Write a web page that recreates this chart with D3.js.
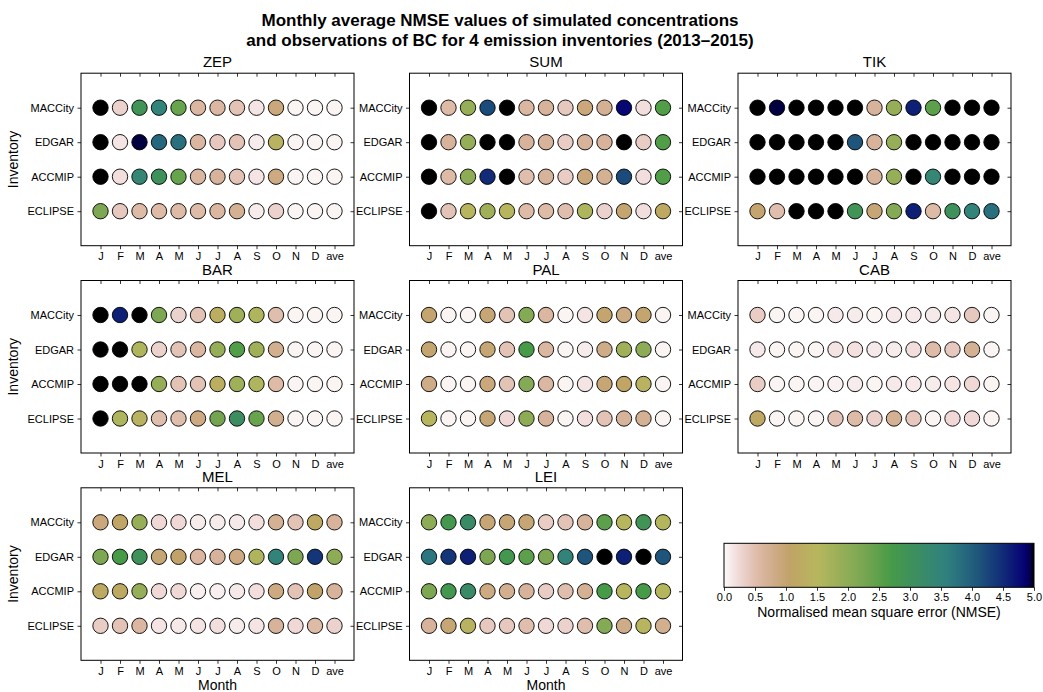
<!DOCTYPE html>
<html lang="en">
<head>
<meta charset="utf-8">
<script src="https://cdnjs.cloudflare.com/ajax/libs/d3/7.8.5/d3.min.js"></script>
<title>Monthly average NMSE</title>
<style>
body{margin:0;background:#fff;}
svg text{font-family:"Liberation Sans",Arial,sans-serif;fill:#000;}
</style>
</head>
<body>
<div id="chart"></div>
<script>
const months = ["J","F","M","A","M","J","J","A","S","O","N","D","ave"];
const inventories = ["MACCity","EDGAR","ACCMIP","ECLIPSE"];
const sites = ["ZEP","SUM","TIK","BAR","PAL","CAB","MEL","LEI"];
const K = 7; // above the colour range -> black

// rows: MACCity, EDGAR, ACCMIP, ECLIPSE ; columns: J..D, ave
const ZEP = [
  [K,0.3,2.9,3.5,2.4,0.6,0.6,0.45,0.15,0.9,0.05,0.05,0.05],
  [K,0.15,4.95,3.9,3.8,0.6,0.4,0.45,0.1,1.4,0.05,0.05,0.05],
  [K,0.2,3.4,3.0,2.4,0.6,0.65,0.45,0.15,0.85,0.05,0.05,0.05],
  [2.2,0.4,0.55,0.55,0.55,0.55,0.6,0.7,0.1,0.3,0.05,0.05,0.05]
];
const SUM = [
  [K,0.55,1.9,4.2,K,0.6,0.65,0.4,0.9,0.7,4.8,0.2,2.6],
  [K,0.65,1.9,K,K,0.65,0.65,0.35,0.65,0.65,K,0.35,2.6],
  [K,0.55,2.0,4.5,K,0.5,0.65,0.35,0.9,0.7,4.2,0.2,2.6],
  [K,0.45,1.5,1.8,1.5,0.55,0.55,0.5,1.6,0.3,1.0,0.2,1.2]
];
const TIK = [
  [K,4.95,K,K,K,K,0.65,1.9,4.6,2.5,K,K,K],
  [K,K,K,K,K,4.1,0.65,1.9,K,K,K,K,K],
  [K,K,K,K,K,K,0.65,1.9,K,3.4,K,K,K],
  [1.0,0.5,K,K,K,2.9,0.95,2.1,4.6,0.55,3.0,3.5,3.8]
];
const BAR = [
  [K,4.6,K,2.2,0.3,0.45,1.3,1.8,1.6,0.5,0.05,0.05,0.05],
  [K,K,1.6,0.3,0.45,0.6,1.9,2.6,1.8,0.75,0.05,0.05,0.05],
  [K,K,K,1.9,0.45,0.45,1.3,1.8,1.6,0.55,0.05,0.05,0.05],
  [K,1.6,1.4,0.5,0.5,0.85,2.3,3.1,2.4,0.75,0.05,0.05,0.05]
];
const PAL = [
  [1.0,0.05,0.05,0.95,0.45,2.1,0.6,0.05,0.15,1.0,0.85,1.0,0.05],
  [1.0,0.05,0.05,0.95,0.45,2.7,0.6,0.05,0.1,0.8,1.8,2.0,0.05],
  [0.8,0.05,0.05,0.9,0.45,2.1,0.6,0.05,0.15,0.95,1.1,1.4,0.05],
  [1.5,0.05,0.05,0.95,0.25,2.0,0.65,0.05,0.2,0.45,0.65,0.7,0.05]
];
const CAB = [
  [0.35,0.05,0.05,0.05,0.12,0.1,0.05,0.12,0.12,0.12,0.15,0.4,0.05],
  [0.12,0.05,0.05,0.05,0.15,0.18,0.12,0.1,0.2,0.55,0.4,0.7,0.05],
  [0.35,0.05,0.05,0.05,0.06,0.1,0.05,0.12,0.12,0.1,0.15,0.25,0.05],
  [1.15,0.05,0.05,0.05,0.45,0.55,0.3,0.7,0.4,0.05,0.25,0.25,0.05]
];
const MEL = [
  [0.9,1.1,1.9,0.25,0.25,0.1,0.1,0.12,0.2,0.7,0.45,1.2,0.65],
  [2.2,2.7,3.0,0.95,1.05,0.6,0.65,0.85,1.6,3.5,2.2,4.4,2.0],
  [1.2,1.2,1.9,0.25,0.25,0.08,0.08,0.12,0.2,0.85,0.45,1.05,0.65],
  [0.35,0.45,0.6,0.15,0.12,0.15,0.2,0.1,0.15,0.65,0.25,0.55,0.3]
];
const LEI = [
  [2.0,2.8,3.2,0.95,0.95,0.95,0.35,0.45,0.65,2.5,1.5,2.9,1.55],
  [3.7,4.4,4.6,2.2,2.8,2.5,2.2,3.5,4.1,K,4.6,K,4.1],
  [2.2,2.8,3.2,0.85,0.75,0.65,0.35,0.5,0.7,2.7,1.5,2.7,1.55],
  [0.65,0.95,1.4,0.4,0.4,0.5,0.25,0.3,0.5,2.1,0.8,1.5,0.75]
];
const siteValues = [ZEP, SUM, TIK, BAR, PAL, CAB, MEL, LEI];
const cbarTicks = [0,0.5,1,1.5,2,2.5,3,3.5,4,4.5,5];

// gist_earth segment data (position, value) used reversed
const earthRed = [[0,0],[0.2824,0.1882],[0.4588,0.2714],[0.5490,0.4719],[0.6980,0.7176],[0.7882,0.7553],[1,0.9922]];
const earthGreen = [[0,0],[0.0275,0],[0.1098,0.1893],[0.1647,0.3035],[0.2078,0.3841],[0.2824,0.5020],[0.5216,0.6397],[0.6980,0.7171],[0.7882,0.6392],[0.7922,0.6413],[0.8000,0.6447],[0.8078,0.6481],[0.8157,0.6549],[0.8667,0.6991],[0.8745,0.7103],[0.8824,0.7216],[0.8902,0.7323],[0.8980,0.7430],[0.9412,0.8275],[0.9569,0.8635],[0.9647,0.8816],[0.9961,0.9733],[1,0.9843]];
const earthBlue = [[0,0],[0.0039,0.1684],[0.0078,0.2212],[0.0275,0.4329],[0.0314,0.4549],[0.2824,0.5004],[0.4667,0.2748],[0.5451,0.3205],[0.7843,0.3961],[0.8941,0.6651],[1,0.9843]];

function channel(seg){
  return d3.scaleLinear().domain(seg.map(d => d[0])).range(seg.map(d => d[1])).clamp(true);
}
const rC = channel(earthRed), gC = channel(earthGreen), bC = channel(earthBlue);
const tScale = d3.scaleLinear().domain([0,5]).range([1,0]).clamp(true);
function nmseColor(v){
  const t = tScale(v);
  return d3.rgb(rC(t)*255, gC(t)*255, bC(t)*255).formatHex();
}

const W = 1043, H = 692;
const svg = d3.select("#chart").append("svg").attr("width", W).attr("height", H);

svg.append("text").attr("x", 500).attr("y", 26).attr("text-anchor","middle")
  .style("font-size","17px").style("font-weight","bold")
  .text("Monthly average NMSE values of simulated concentrations");
svg.append("text").attr("x", 500).attr("y", 46).attr("text-anchor","middle")
  .style("font-size","17px").style("font-weight","bold")
  .text("and observations of BC for 4 emission inventories (2013–2015)");

const colLeft = [81, 409.5, 738];
const rowTop = [73.2, 280.5, 487.8];
const pw = 273, ph = 172.5;

const x = d3.scaleLinear().domain([-1,13]).range([0,pw]);
const y = d3.scaleLinear().domain([-1,4]).range([ph,0]);

sites.forEach(function(site, si){
  const col = si % 3, row = Math.floor(si / 3);
  const g = svg.append("g").attr("transform","translate(" + colLeft[col] + "," + rowTop[row] + ")");

  g.append("text").attr("x", pw/2).attr("y", -6).attr("text-anchor","middle")
    .style("font-size","15px").text(site);

  const xb = g.append("g").attr("transform","translate(0," + ph + ")")
    .call(d3.axisBottom(x).tickValues(d3.range(13)).tickFormat(i => months[i]).tickSizeInner(3.5).tickSizeOuter(0).tickPadding(3.5));
  const xt = g.append("g")
    .call(d3.axisTop(x).tickValues(d3.range(13)).tickFormat("").tickSizeInner(-3.5).tickSizeOuter(0));
  const yl = g.append("g")
    .call(d3.axisLeft(y).tickValues([0,1,2,3]).tickFormat(i => inventories[3 - i]).tickSizeInner(3.5).tickSizeOuter(0).tickPadding(3.5));
  const yr = g.append("g").attr("transform","translate(" + pw + ",0)")
    .call(d3.axisRight(y).tickValues([0,1,2,3]).tickFormat("").tickSizeInner(-3.5).tickSizeOuter(0));
  [xb, xt, yl, yr].forEach(a => {
    a.select(".domain").remove();
    a.selectAll("text").style("font-size","11px").style("font-family","'Liberation Sans',Arial,sans-serif");
    a.selectAll("line").attr("stroke","#000").attr("stroke-width",0.8);
  });

  g.append("rect").attr("width", pw).attr("height", ph)
    .attr("fill","none").attr("stroke","#000").attr("stroke-width",1);

  const cells = [];
  siteValues[si].forEach(function(vals, ri){
    vals.forEach(function(v, mi){ cells.push({inv: ri, m: mi, v: v}); });
  });

  g.selectAll("circle.cell").data(cells).enter().append("circle")
    .attr("class","cell")
    .attr("cx", d => x(d.m))
    .attr("cy", d => y(3 - d.inv))
    .attr("r", 7.7)
    .attr("fill", d => nmseColor(d.v))
    .attr("stroke","#000").attr("stroke-width",0.9);

  if (col === 0) {
    g.append("text").attr("transform","translate(" + (-63) + "," + (ph/2) + ") rotate(-90)")
      .attr("text-anchor","middle").style("font-size","14px").text("Inventory");
  }
  if (row === 2) {
    g.append("text").attr("x", pw/2).attr("y", ph + 30).attr("text-anchor","middle")
      .style("font-size","14px").text("Month");
  }
});

// colour bar
const cbX = 724, cbY = 543.3, cbW = 310, cbH = 44;
const cb = svg.append("g").attr("transform","translate(" + cbX + "," + cbY + ")");
const grad = svg.append("defs").append("linearGradient").attr("id","nmseGrad")
  .attr("x1","0%").attr("x2","100%").attr("y1","0%").attr("y2","0%");
d3.range(0, 5.0001, 0.05).forEach(function(v){
  grad.append("stop").attr("offset", (v/5*100) + "%").attr("stop-color", nmseColor(v));
});
cb.append("rect").attr("width", cbW).attr("height", cbH).attr("fill","url(#nmseGrad)")
  .attr("stroke","#000").attr("stroke-width",1);
const cbScale = d3.scaleLinear().domain([0,5]).range([0,cbW]);
const cbAxis = cb.append("g").attr("transform","translate(0," + cbH + ")")
  .call(d3.axisBottom(cbScale).tickValues(cbarTicks).tickFormat(d3.format(".1f")).tickSizeInner(3.5).tickSizeOuter(0).tickPadding(2));
cbAxis.select(".domain").remove();
cbAxis.selectAll("text").style("font-size","11px").style("font-family","'Liberation Sans',Arial,sans-serif");
cbAxis.selectAll("line").attr("stroke","#000").attr("stroke-width",0.8);
cb.append("text").attr("x", cbW/2).attr("y", cbH + 30).attr("text-anchor","middle")
  .style("font-size","14px").text("Normalised mean square error (NMSE)");
</script>
</body>
</html>
